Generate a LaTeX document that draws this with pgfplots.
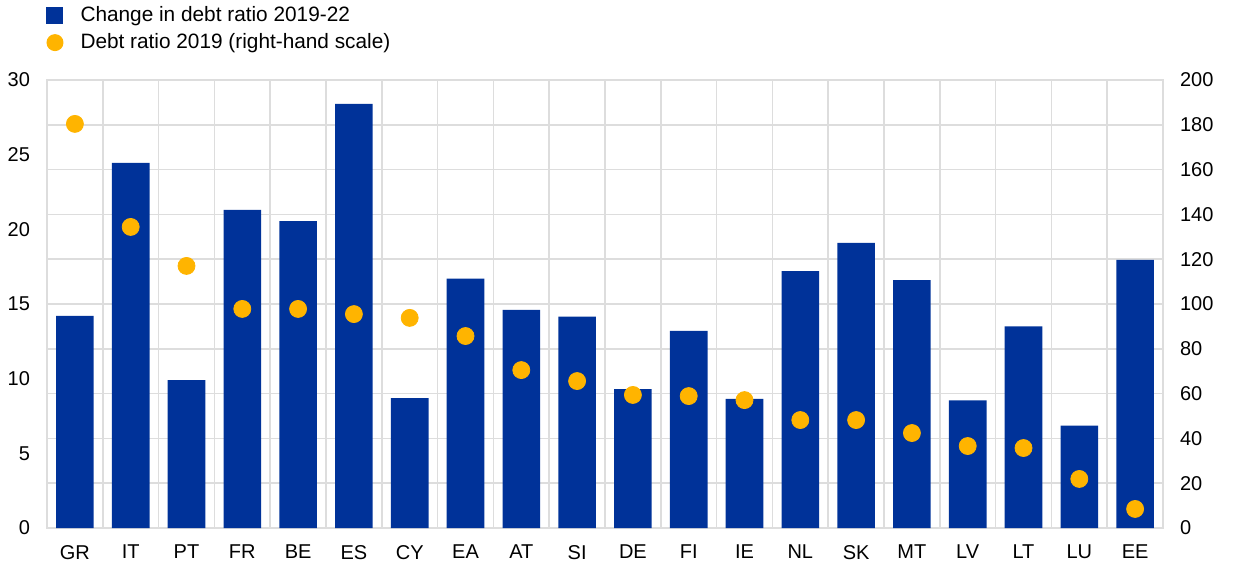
\documentclass[border=0pt]{standalone}
\usepackage{fontspec}
\setmainfont{Liberation Sans}
\usepackage{pgfplots}
\pgfplotsset{compat=1.18}
\definecolor{ecbblue}{HTML}{003299}
\definecolor{ecbyellow}{HTML}{FFB400}
\definecolor{gridgray}{HTML}{DDDDDD}
\begin{document}
\fontsize{10}{12}\selectfont
\begin{tikzpicture}
\path[use as bounding box] (-23.5pt,-23pt) rectangle (596.5pt,264pt);
\begin{axis}[
  scale only axis, width=558pt, height=224pt,
  xmin=-0.5, xmax=19.5, ymin=0, ymax=30,
  xtick={0,...,19},
  xticklabels={GR,IT,PT,FR,BE,ES,CY,EA,AT,SI,DE,FI,IE,NL,SK,MT,LV,LT,LU,EE},
  minor xtick={-0.5,0.5,...,19.5},
  ytick={0,5,...,30},
  minor ytick={0,3,...,30},
  xminorgrids, yminorgrids,
  minor grid style={gridgray, line width=0.8pt},
  major tick length=0pt, minor tick length=0pt,
  axis line style={gridgray, line width=0.8pt},
  tick label style={font=\fontsize{10}{12}\selectfont, text=black},
  /pgf/number format/assume math mode=true,
  yticklabel style={xshift=-5pt},
  xticklabel style={yshift=-5pt},
]
\addplot[ybar, bar width=18.8pt, fill=ecbblue, draw=none] coordinates {
(0,14.2) (1,24.45) (2,9.9) (3,21.3) (4,20.55) (5,28.4) (6,8.7) (7,16.7) (8,14.6) (9,14.15)
(10,9.3) (11,13.2) (12,8.65) (13,17.2) (14,19.1) (15,16.6) (16,8.55) (17,13.5) (18,6.85) (19,17.95)};
\end{axis}
\begin{axis}[
  scale only axis, width=558pt, height=224pt,
  xmin=-0.5, xmax=19.5, ymin=0, ymax=200,
  axis x line=none, axis y line*=right,
  y axis line style={draw=none},
  ytick={0,20,...,200},
  major tick length=0pt,
  tick label style={font=\fontsize{10}{12}\selectfont, text=black},
  /pgf/number format/assume math mode=true,
  yticklabel style={xshift=5pt},
  legend style={at={(rel axis cs:0,1)}, anchor=north west, xshift=-0.25pt, yshift=38.75pt,
    draw=none, fill=none, inner sep=0pt, outer sep=0pt, row sep=0.5pt, column sep=6.5pt,
    font=\fontsize{10.4}{12}\selectfont},
  legend cell align=left,
]
\addlegendimage{legend image code/.code={\path[draw=none,fill=none] (-0.75pt,-4.25pt) rectangle (7.75pt,4.25pt); \fill[ecbblue,draw=none] (-0.75pt,-4.25pt) rectangle (7.75pt,4.25pt);}}
\addlegendentry{Change in debt ratio 2019-22}
\addplot[only marks, mark=*, mark size=4.25pt, color=ecbyellow,
  legend image code/.code={\path[draw=none,fill=none] (-0.75pt,-4.25pt) rectangle (7.75pt,4.25pt); \fill[ecbyellow,draw=none] (3.5pt,0pt) circle (4.25pt);}] coordinates {
(0,180.4) (1,134.4) (2,117) (3,97.8) (4,97.8) (5,95.5) (6,93.8) (7,85.7) (8,70.5) (9,65.6)
(10,59.4) (11,58.9) (12,57.1) (13,48.2) (14,48.2) (15,42.4) (16,36.6) (17,35.7) (18,21.9) (19,8.5)};
\addlegendentry{Debt ratio 2019 (right-hand scale)}
\end{axis}
\end{tikzpicture}
\end{document}
